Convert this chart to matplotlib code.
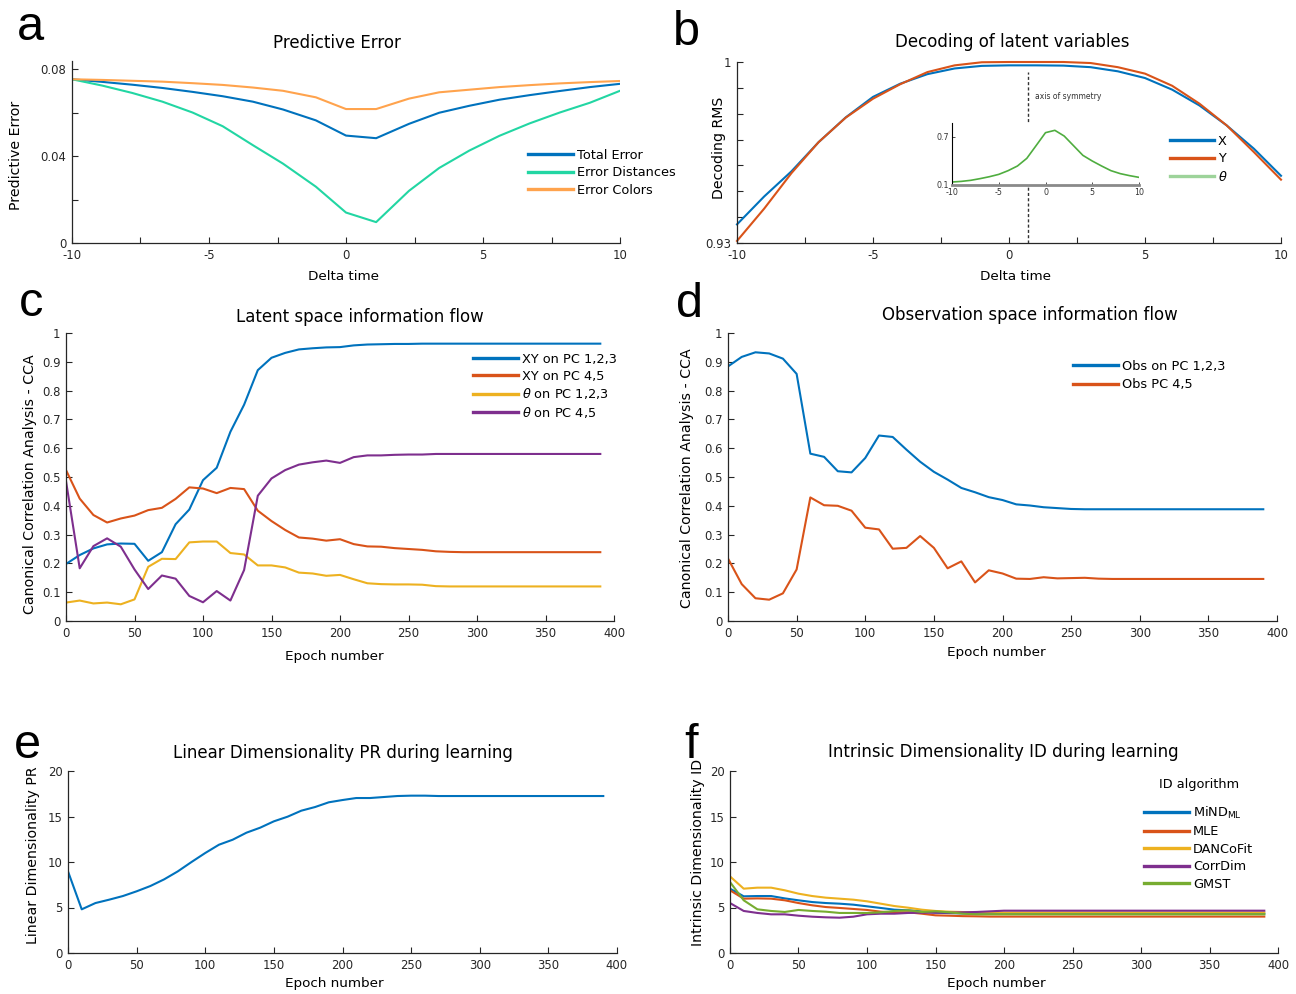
import numpy as np
import matplotlib
matplotlib.use('Agg')
import matplotlib.pyplot as plt
from matplotlib.lines import Line2D

# ---------------- data ----------------
# panel a
a_dt = [-10, -8.9, -7.8, -6.7, -5.6, -4.5, -3.4, -2.3, -1.1, 0, 1.1, 2.3, 3.4, 4.5, 5.6, 6.7, 7.8, 8.9, 10]
a_total = [0.0753, 0.0741, 0.0728, 0.0713, 0.0695, 0.0675, 0.0650, 0.0614, 0.0564, 0.0494,
           0.0482, 0.0548, 0.0599, 0.0631, 0.0659, 0.0680, 0.0699, 0.0717, 0.0732]
a_dist = [0.0753, 0.0724, 0.0690, 0.0650, 0.0600, 0.0537, 0.0450, 0.0365, 0.0259, 0.0140,
          0.0096, 0.0240, 0.0345, 0.0425, 0.0493, 0.0550, 0.0600, 0.0645, 0.0700]
a_colors = [0.0753, 0.0750, 0.0746, 0.0742, 0.0735, 0.0727, 0.0715, 0.0700, 0.0670, 0.0616,
            0.0616, 0.0664, 0.0693, 0.0705, 0.0717, 0.0726, 0.0734, 0.0740, 0.0745]
a_labels = ['Total Error', 'Error Distances', 'Error Colors']
a_xticks = [-10, -7.5, -5, -2.5, 0, 2.5, 5, 7.5, 10]
a_xticklabels = ['-10', '', '-5', '', '0', '', '5', '', '10']
a_yticks = [0, 0.02, 0.04, 0.06, 0.08]
a_yticklabels = ['0', '', '0.04', '', '0.08']

# panel b
b_dt = [-10, -9, -8, -7, -6, -5, -4, -3, -2, -1, 0, 1, 2, 3, 4, 5, 6, 7, 8, 9, 10]
b_x = [0.9372, 0.9480, 0.9577, 0.9690, 0.9786, 0.9865, 0.9916, 0.9953, 0.9975, 0.9985, 0.9987,
       0.9987, 0.9986, 0.9980, 0.9964, 0.9938, 0.9893, 0.9832, 0.9755, 0.9665, 0.9560]
b_y = [0.9308, 0.9433, 0.9570, 0.9690, 0.9785, 0.9858, 0.9914, 0.9961, 0.9987, 0.9999, 1.0,
       1.0, 1.0, 0.9996, 0.9980, 0.9955, 0.9908, 0.9839, 0.9755, 0.9652, 0.9545]
b_theta = [0.137, 0.145, 0.158, 0.179, 0.203, 0.232, 0.278, 0.336, 0.431, 0.590, 0.750,
           0.779, 0.708, 0.588, 0.468, 0.398, 0.336, 0.278, 0.241, 0.216, 0.195]
b_labels = ['X', 'Y', r'$\theta$']
b_axis_sym = 0.7
b_yticks = [0.93, 0.94, 0.95, 0.96, 0.97, 0.98, 0.99, 1.0]
b_yticklabels = ['0.93', '', '', '', '', '', '', '1']

# epochs (panels c-f)
epochs = [0, 10, 20, 30, 40, 50, 60, 70, 80, 90, 100, 110, 120, 130, 140, 150, 160, 170, 180, 190,
          200, 210, 220, 230, 240, 250, 260, 270, 280, 290, 300, 310, 320, 330, 340, 350, 360, 370, 380, 390]

# panel c
c_xy123 = [0.198, 0.229, 0.252, 0.266, 0.269, 0.268, 0.209, 0.239, 0.336, 0.387, 0.489, 0.532, 0.657, 0.751,
           0.871, 0.914, 0.931, 0.943, 0.947, 0.950, 0.951, 0.957, 0.960, 0.961, 0.962, 0.962, 0.963, 0.963,
           0.963, 0.963, 0.963, 0.963, 0.963, 0.963, 0.963, 0.963, 0.963, 0.963, 0.963, 0.963]
c_xy45 = [0.524, 0.425, 0.368, 0.342, 0.356, 0.366, 0.385, 0.393, 0.424, 0.464, 0.460, 0.444, 0.462, 0.458,
          0.383, 0.347, 0.316, 0.290, 0.286, 0.279, 0.284, 0.267, 0.259, 0.258, 0.253, 0.250, 0.247, 0.242,
          0.240, 0.239, 0.239, 0.239, 0.239, 0.239, 0.239, 0.239, 0.239, 0.239, 0.239, 0.239]
c_th123 = [0.064, 0.071, 0.061, 0.064, 0.058, 0.075, 0.188, 0.216, 0.215, 0.273, 0.276, 0.276, 0.236, 0.231,
           0.193, 0.193, 0.186, 0.168, 0.165, 0.157, 0.160, 0.145, 0.131, 0.128, 0.127, 0.127, 0.126, 0.121,
           0.120, 0.120, 0.120, 0.120, 0.120, 0.120, 0.120, 0.120, 0.120, 0.120, 0.120, 0.120]
c_th45 = [0.486, 0.183, 0.260, 0.287, 0.258, 0.179, 0.111, 0.158, 0.147, 0.087, 0.065, 0.104, 0.071, 0.177,
          0.435, 0.495, 0.524, 0.543, 0.551, 0.557, 0.549, 0.569, 0.575, 0.575, 0.577, 0.578, 0.578, 0.580,
          0.580, 0.580, 0.580, 0.580, 0.580, 0.580, 0.580, 0.580, 0.580, 0.580, 0.580, 0.580]
c_labels = ['XY on PC 1,2,3', 'XY on PC 4,5', r'$\theta$ on PC 1,2,3', r'$\theta$ on PC 4,5']

# panel d
d_obs123 = [0.884, 0.917, 0.933, 0.929, 0.911, 0.858, 0.581, 0.570, 0.520, 0.516, 0.566, 0.644, 0.639, 0.595,
            0.553, 0.518, 0.491, 0.462, 0.447, 0.430, 0.420, 0.405, 0.401, 0.395, 0.392, 0.389, 0.388, 0.388,
            0.388, 0.388, 0.388, 0.388, 0.388, 0.388, 0.388, 0.388, 0.388, 0.388, 0.388, 0.388]
d_obs45 = [0.217, 0.128, 0.079, 0.074, 0.096, 0.179, 0.429, 0.402, 0.400, 0.383, 0.324, 0.318, 0.251, 0.254,
           0.295, 0.254, 0.183, 0.207, 0.134, 0.176, 0.165, 0.147, 0.146, 0.152, 0.148, 0.149, 0.150, 0.147,
           0.146, 0.146, 0.146, 0.146, 0.146, 0.146, 0.146, 0.146, 0.146, 0.146, 0.146, 0.146]
d_labels = ['Obs on PC 1,2,3', 'Obs PC 4,5']

# panel e
e_pr = [8.97, 4.80, 5.49, 5.86, 6.26, 6.78, 7.36, 8.09, 8.97, 10.0, 10.99, 11.9, 12.45, 13.22, 13.77, 14.47,
        14.98, 15.64, 16.04, 16.56, 16.81, 17.03, 17.03, 17.14, 17.25, 17.29, 17.29, 17.25, 17.25, 17.25,
        17.25, 17.25, 17.25, 17.25, 17.25, 17.25, 17.25, 17.25, 17.25, 17.25]

# panel f
f_mind = [7.07, 6.23, 6.26, 6.26, 6.00, 5.79, 5.60, 5.49, 5.42, 5.31, 5.13, 4.95, 4.76, 4.69, 4.58, 4.43,
          4.38, 4.35, 4.32, 4.32, 4.32, 4.32, 4.32, 4.32, 4.32, 4.32, 4.32, 4.32, 4.32, 4.32, 4.32, 4.32,
          4.32, 4.32, 4.32, 4.32, 4.32, 4.32, 4.32, 4.32]
f_mle = [6.89, 5.97, 6.00, 5.97, 5.79, 5.49, 5.24, 5.05, 4.95, 4.84, 4.73, 4.54, 4.47, 4.47, 4.32, 4.14,
         4.10, 4.05, 4.03, 4.00, 4.00, 4.00, 4.00, 4.00, 4.00, 4.00, 4.00, 4.00, 4.00, 4.00, 4.00, 4.00,
         4.00, 4.00, 4.00, 4.00, 4.00, 4.00, 4.00, 4.00]
f_danco = [8.42, 7.07, 7.18, 7.18, 6.89, 6.52, 6.26, 6.08, 5.97, 5.86, 5.68, 5.42, 5.16, 4.98, 4.76, 4.62,
           4.54, 4.50, 4.45, 4.45, 4.45, 4.45, 4.45, 4.45, 4.45, 4.45, 4.45, 4.45, 4.45, 4.45, 4.45, 4.45,
           4.45, 4.45, 4.45, 4.45, 4.45, 4.45, 4.45, 4.45]
f_corr = [5.49, 4.62, 4.40, 4.25, 4.25, 4.10, 3.99, 3.92, 3.88, 3.99, 4.25, 4.32, 4.32, 4.40, 4.43, 4.43,
          4.43, 4.47, 4.51, 4.58, 4.65, 4.65, 4.65, 4.65, 4.65, 4.65, 4.65, 4.65, 4.65, 4.65, 4.65, 4.65,
          4.65, 4.65, 4.65, 4.65, 4.65, 4.65, 4.65, 4.65]
f_gmst = [7.80, 5.79, 4.80, 4.62, 4.51, 4.73, 4.62, 4.54, 4.40, 4.40, 4.40, 4.47, 4.62, 4.69, 4.51, 4.58,
          4.47, 4.32, 4.25, 4.25, 4.25, 4.25, 4.25, 4.25, 4.25, 4.25, 4.25, 4.25, 4.25, 4.25, 4.25, 4.25,
          4.25, 4.25, 4.25, 4.25, 4.25, 4.25, 4.25, 4.25]
f_labels = [r'MiND$_{\mathregular{ML}}$', 'MLE', 'DANCoFit', 'CorrDim', 'GMST']

# ---------------- style ----------------
C_BLUE = '#0072BD'
C_ORANGE = '#D95319'
C_YELLOW = '#EDB120'
C_PURPLE = '#7E2F8E'
C_GREEN = '#77AC30'
C_TEAL = '#22D6A3'
C_LORANGE = '#FFA34D'
C_THETA_INSET = '#4FAD3F'
C_THETA_LEG = '#9DD39A'
AX_C = '#262626'

plt.rcParams['font.family'] = ['DejaVu Sans']
plt.rcParams['mathtext.fontset'] = 'dejavusans'

W, H = 1296, 994
fig = plt.figure(figsize=(W / 100, H / 100), dpi=100)

LW = 1.5
TICK_FS = 8.4
TITLE_FS = 12
XLAB_FS = 9.7
YLAB_FS = 10.2
LEG_FS = 9.3


def rect(l, t, r, b):
    return [l / W, 1 - b / H, (r - l) / W, (b - t) / H]


def ftext(x, y, s, **kw):
    return fig.text(x / W, 1 - y / H, s, **kw)


def style(ax):
    for s in ['top', 'right']:
        ax.spines[s].set_visible(False)
    for s in ['left', 'bottom']:
        ax.spines[s].set_color(AX_C)
        ax.spines[s].set_linewidth(0.9)
    ax.tick_params(direction='in', length=4.3, width=0.8, color=AX_C,
                   labelcolor=AX_C, labelsize=TICK_FS, pad=4)
    ax.patch.set_alpha(0)


def legend(ax, handles, labels, x, ytop, hl=3.5, ls=0.34, **kw):
    lg = ax.legend(handles, labels, loc='upper left',
                   bbox_to_anchor=(x / W, 1 - ytop / H), bbox_transform=fig.transFigure,
                   frameon=False, borderpad=0, borderaxespad=0, handlelength=hl,
                   handletextpad=0.3, labelspacing=ls, fontsize=LEG_FS, **kw)
    for ln in lg.get_lines():
        ln.set_linewidth(2.4)
    return lg


def labels(title, tx, ty, xl, xx, xy, yl, yx, yy):
    ftext(tx, ty, title, ha='center', va='baseline', fontsize=TITLE_FS, color='black')
    ftext(xx, xy, xl, ha='center', va='baseline', fontsize=XLAB_FS, color='black')
    ftext(yx, yy, yl, ha='center', va='center', rotation=90, fontsize=YLAB_FS, color='black')


# ---------------- panel a ----------------
axa = fig.add_axes(rect(72, 61, 620, 243))
style(axa)
la1, = axa.plot(a_dt, a_total, color=C_BLUE, lw=LW)
la2, = axa.plot(a_dt, a_dist, color=C_TEAL, lw=LW)
la3, = axa.plot(a_dt, a_colors, color=C_LORANGE, lw=LW)
axa.set_xlim(-10, 10)
axa.set_ylim(0, 0.0837)
axa.set_xticks(a_xticks)
axa.set_xticklabels(a_xticklabels)
axa.set_yticks(a_yticks)
axa.set_yticklabels(a_yticklabels)
legend(axa, [la1, la2, la3], a_labels, 528, 149)
labels('Predictive Error', 337, 48, 'Delta time', 343, 280, 'Predictive Error', 16.5, 155)

# ---------------- panel b ----------------
axb = fig.add_axes(rect(737, 62, 1281, 243))
style(axb)
lbx, = axb.plot(b_dt, b_x, color=C_BLUE, lw=LW, clip_on=False)
lby, = axb.plot(b_dt, b_y, color=C_ORANGE, lw=LW, clip_on=False)
axb.set_xlim(-10, 10)
axb.set_ylim(0.93, 1.0)
axb.set_xticks(a_xticks)
axb.set_xticklabels(a_xticklabels)
axb.set_yticks(b_yticks)
axb.set_yticklabels(b_yticklabels)
axb.axvline(b_axis_sym, ymin=0, ymax=0.945, color='#333333', lw=1.0, ls=(0, (2.2, 1.6)))
axb.text(0.95, 0.9865, 'axis of symmetry', fontsize=5.5, va='center', ha='left', color='#333333')
theta_proxy = Line2D([], [], color=C_THETA_LEG, lw=2.4)
legend(axb, [lbx, lby, theta_proxy], b_labels, 1170, 135, hl=3.4)
labels('Decoding of latent variables', 1012, 47, 'Delta time', 1016, 280, 'Decoding RMS', 719, 148)

# inset
axi = fig.add_axes(rect(952, 123, 1139, 185))
axi.set_zorder(5)
axi.set_facecolor('white')
for s in ['top', 'right']:
    axi.spines[s].set_visible(False)
axi.spines['left'].set_color('black')
axi.spines['left'].set_linewidth(0.8)
axi.spines['bottom'].set_color('#8a8a8a')
axi.spines['bottom'].set_linewidth(2.0)
axi.plot(b_dt, b_theta, color=C_THETA_INSET, lw=1.2)
axi.set_xlim(-10, 10)
axi.set_ylim(0.1, 0.87)
axi.set_xticks([-10, -5, 0, 5, 10])
axi.set_xticklabels(['-10', '-5', '0', '5', '10'])
axi.set_yticks([0.1, 0.7])
axi.set_yticklabels(['0.1', '0.7'])
axi.tick_params(direction='in', length=2, width=0.6, labelsize=5.7, colors='#333333')
axi.tick_params(axis='x', pad=2.2)
axi.tick_params(axis='y', pad=2.0)

# ---------------- panel c ----------------
axc = fig.add_axes(rect(66, 333, 614, 621))
style(axc)
lc1, = axc.plot(epochs, c_xy123, color=C_BLUE, lw=LW)
lc2, = axc.plot(epochs, c_xy45, color=C_ORANGE, lw=LW)
lc3, = axc.plot(epochs, c_th123, color=C_YELLOW, lw=LW)
lc4, = axc.plot(epochs, c_th45, color=C_PURPLE, lw=LW)
axc.set_xlim(0, 400)
axc.set_ylim(0, 1)
axc.set_xticks(np.arange(0, 401, 50))
axc.set_yticks(np.round(np.arange(0, 1.01, 0.1), 1))
axc.set_yticklabels(['0', '0.1', '0.2', '0.3', '0.4', '0.5', '0.6', '0.7', '0.8', '0.9', '1'])
legend(axc, [lc1, lc2, lc3, lc4], c_labels, 473, 353, ls=0.28)
labels('Latent space information flow', 360, 322, 'Epoch number', 334, 660,
       'Canonical Correlation Analysis - CCA', 30, 484)

# ---------------- panel d ----------------
axd = fig.add_axes(rect(728, 333, 1277, 621))
style(axd)
ld1, = axd.plot(epochs, d_obs123, color=C_BLUE, lw=LW)
ld2, = axd.plot(epochs, d_obs45, color=C_ORANGE, lw=LW)
axd.set_xlim(0, 400)
axd.set_ylim(0, 1)
axd.set_xticks(np.arange(0, 401, 50))
axd.set_yticks(np.round(np.arange(0, 1.01, 0.1), 1))
axd.set_yticklabels(['0', '0.1', '0.2', '0.3', '0.4', '0.5', '0.6', '0.7', '0.8', '0.9', '1'])
legend(axd, [ld1, ld2], d_labels, 1073, 360, ls=0.4)
labels('Observation space information flow', 1030, 320, 'Epoch number', 996, 656,
       'Canonical Correlation Analysis - CCA', 687, 478)

# ---------------- panel e ----------------
axe = fig.add_axes(rect(68, 771, 617, 953))
style(axe)
axe.plot(epochs, e_pr, color=C_BLUE, lw=LW)
axe.set_xlim(0, 400)
axe.set_ylim(0, 20)
axe.set_xticks(np.arange(0, 401, 50))
axe.set_yticks([0, 5, 10, 15, 20])
labels('Linear Dimensionality PR during learning', 343, 758, 'Epoch number', 334, 987,
       'Linear Dimensionality PR', 33, 855)

# ---------------- panel f ----------------
axf = fig.add_axes(rect(730, 771, 1278, 953))
style(axf)
lf1, = axf.plot(epochs, f_mind, color=C_BLUE, lw=LW)
lf2, = axf.plot(epochs, f_mle, color=C_ORANGE, lw=LW)
lf3, = axf.plot(epochs, f_danco, color=C_YELLOW, lw=LW)
lf4, = axf.plot(epochs, f_corr, color=C_PURPLE, lw=LW)
axf.set_xlim(0, 400)
axf.set_ylim(0, 20)
axf.set_xticks(np.arange(0, 401, 50))
axf.set_yticks([0, 5, 10, 15, 20])
lf5, = axf.plot(epochs, f_gmst, color=C_GREEN, lw=LW)
lgf = legend(axf, [lf1, lf2, lf3, lf4, lf5], f_labels, 1144, 778, hl=3.5, ls=0.34,
             title='ID algorithm', title_fontsize=LEG_FS)
lgf._legend_box.sep = 10
labels('Intrinsic Dimensionality ID during learning', 1003, 757, 'Epoch number', 996, 987,
       'Intrinsic Dimensionality ID', 698, 852)

# ---------------- panel letters ----------------
for lt, x, y in [('a', 17, 40), ('b', 673, 45), ('c', 19, 316), ('d', 676, 317), ('e', 14, 758), ('f', 684, 758)]:
    ftext(x, y, lt, ha='left', va='baseline', fontsize=35, family='Liberation Sans', color='black')

fig.savefig('out.png', dpi=100)
